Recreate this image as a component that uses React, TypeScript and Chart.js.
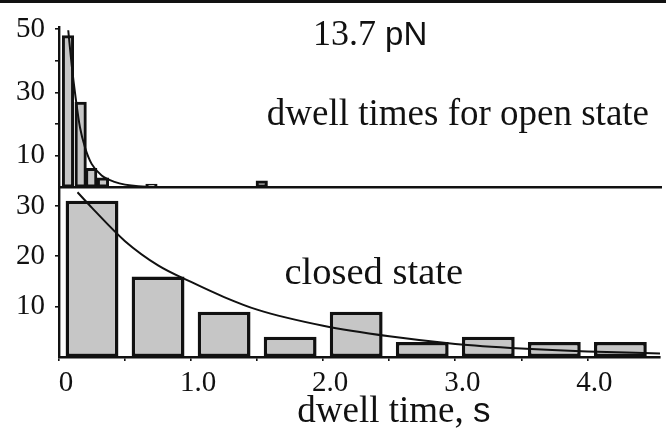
import React, { useEffect, useRef } from "react";
import { Chart, registerables } from "chart.js";

Chart.register(...registerables);

// ---- data ----
const openTimes = [0.068, 0.164, 0.244, 0.333, 0.7, 1.535];
const openCounts = [48, 27, 6, 3, 1, 2];
const closedTimes = [0.25, 0.75, 1.25, 1.75, 2.25, 2.75, 3.25, 3.75, 4.25];
const closedCounts = [31, 16, 9, 4, 9, 3, 4, 3, 3];
const openFitT = [0.07, 0.096, 0.126, 0.159, 0.197, 0.247, 0.323, 0.42, 0.6, 0.8, 1.0, 1.63];
const openFitY = [49.7, 38.7, 28.3, 18.9, 12.6, 7.4, 3.7, 1.7, 0.3, 0.05, 0, 0];
const closedFitT = [0.14, 0.25, 0.5, 0.75, 1.0, 1.25, 1.5, 2.0, 2.5, 3.0, 3.5, 4.0, 4.55];
const closedFitY = [32.7, 29.6, 23.0, 18.2, 14.9, 11.9, 9.4, 6.2, 4.1, 2.6, 1.7, 1.1, 0.7];
const xTickValues = [0, 0.5, 1, 1.5, 2, 2.5, 3, 3.5, 4];
const xTickLabels = ["0", "", "1.0", "", "2.0", "", "3.0", "", "4.0"];
const openYTickValues = [10, 20, 30, 40, 50];
const openYTickLabels = ["10", "", "30", "", "50"];
const closedYTickValues = [10, 20, 30];
const closedYTickLabels = ["10", "20", "30"];
const xRange = [0, 4.55];
const openYRange = [0, 50.6];
const closedYRange = [0, 33.7];
const panelTitle = ["13.7 ", "pN"];
const openLabel = "dwell times for open state";
const closedLabel = "closed state";
const xTitle = ["dwell time, ", "s"];

const SERIF = "'Liberation Serif', 'Times New Roman', serif";
const SANS = "'Liberation Sans', Arial, sans-serif";
const INK = "#111111";
const BAR_FILL = "#c6c6c6";

export default function App() {
  const ref = useRef<HTMLCanvasElement | null>(null);

  useEffect(() => {
    const canvas = ref.current;
    if (!canvas) return;

    const drawMixed = (
      ctx: CanvasRenderingContext2D,
      parts: { text: string; font: string }[],
      cx: number,
      baseline: number
    ) => {
      let total = 0;
      const widths = parts.map((p) => {
        ctx.font = p.font;
        const w = ctx.measureText(p.text).width;
        total += w;
        return w;
      });
      let x = cx - total / 2;
      ctx.textAlign = "left";
      ctx.textBaseline = "alphabetic";
      parts.forEach((p, i) => {
        ctx.font = p.font;
        ctx.fillText(p.text, x, baseline);
        x += widths[i];
      });
    };

    const decor = {
      id: "decor",
      afterDraw(chart: any) {
        const { ctx, chartArea, scales } = chart;
        const x = scales.x;
        const yTop = scales.yTop;
        const yBot = scales.yBot;
        ctx.save();
        ctx.fillStyle = INK;
        ctx.strokeStyle = INK;
        // frame line at the very top
        ctx.lineWidth = 3;
        ctx.beginPath();
        ctx.moveTo(0, 1.5);
        ctx.lineTo(chart.width, 1.5);
        ctx.stroke();
        // separator between panels (baseline of upper panel)
        ctx.lineWidth = 2.4;
        ctx.beginPath();
        ctx.moveTo(chartArea.left - 1, yBot.top);
        ctx.lineTo(chart.width - 4, yBot.top);
        ctx.stroke();

        // texts
        drawMixed(
          ctx,
          [
            { text: panelTitle[0], font: `36px ${SERIF}` },
            { text: panelTitle[1], font: `33px ${SANS}` },
          ],
          x.getPixelForValue(2.356),
          yTop.getPixelForValue(45.0)
        );
        drawMixed(
          ctx,
          [{ text: openLabel, font: `37px ${SERIF}` }],
          x.getPixelForValue(3.02),
          yTop.getPixelForValue(19.7)
        );
        drawMixed(
          ctx,
          [{ text: closedLabel, font: `38.5px ${SERIF}` }],
          x.getPixelForValue(2.383),
          yBot.getPixelForValue(14.5)
        );
        drawMixed(
          ctx,
          [
            { text: xTitle[0], font: `37px ${SERIF}` },
            { text: xTitle[1], font: `35px ${SANS}` },
          ],
          x.getPixelForValue(2.535),
          chartArea.bottom + 65
        );
        ctx.restore();
      },
    };

    const tickFont = { family: SERIF, size: 29 };
    const tickGrid = {
      drawOnChartArea: false,
      drawTicks: true,
      tickLength: 4,
      color: INK,
      lineWidth: 1.6,
      offset: false,
    };

    const chart = new Chart(canvas, {
      type: "bar",
      data: {
        datasets: [
          {
            type: "line",
            data: openFitT.map((t, i) => ({ x: t, y: openFitY[i] })),
            xAxisID: "x",
            yAxisID: "yTop",
            borderColor: INK,
            borderWidth: 2,
            pointRadius: 0,
            cubicInterpolationMode: "monotone",
            fill: false,
          } as any,
          {
            type: "line",
            data: closedFitT.map((t, i) => ({ x: t, y: closedFitY[i] })),
            xAxisID: "x",
            yAxisID: "yBot",
            borderColor: INK,
            borderWidth: 2,
            pointRadius: 0,
            cubicInterpolationMode: "monotone",
            fill: false,
          } as any,
          {
            type: "bar",
            data: openTimes.map((t, i) => ({ x: t, y: openCounts[i] })),
            xAxisID: "xTop",
            yAxisID: "yTop",
            backgroundColor: BAR_FILL,
            borderColor: INK,
            borderWidth: 3,
            borderSkipped: false,
            barThickness: 11.5,
            grouped: false,
          } as any,
          {
            type: "bar",
            data: closedTimes.map((t, i) => ({ x: t, y: closedCounts[i] })),
            xAxisID: "x",
            yAxisID: "yBot",
            backgroundColor: BAR_FILL,
            borderColor: INK,
            borderWidth: 3.5,
            borderSkipped: false,
            categoryPercentage: 1,
            barPercentage: 0.8,
            grouped: false,
          } as any,
        ],
      },
      options: {
        animation: false,
        responsive: false,
        devicePixelRatio: 1,
        layout: { padding: { top: 22, right: 6, left: 0, bottom: 0 } },
        plugins: {
          legend: { display: false },
          tooltip: { enabled: false },
          title: { display: false },
        },
        scales: {
          x: {
            type: "linear",
            position: "bottom",
            offset: false,
            min: xRange[0],
            max: xRange[1],
            afterBuildTicks: (s: any) => {
              s.ticks = xTickValues.map((v) => ({ value: v }));
            },
            afterFit: (s: any) => {
              s.height = 75;
            },
            ticks: {
              callback: (_v: any, i: number) => xTickLabels[i],
              font: tickFont,
              color: INK,
              padding: 5,
              labelOffset: 7,
              maxRotation: 0,
              autoSkip: false,
            },
            grid: tickGrid,
            border: { display: true, color: INK, width: 2.4 },
          },
          xTop: {
            type: "linear",
            display: false,
            offset: false,
            min: xRange[0],
            max: xRange[1],
          },
          yBot: {
            type: "linear",
            position: "left",
            stack: "panels",
            stackWeight: 172,
            min: closedYRange[0],
            max: closedYRange[1],
            afterBuildTicks: (s: any) => {
              s.ticks = closedYTickValues.map((v) => ({ value: v }));
            },
            afterFit: (s: any) => {
              s.width = 59;
            },
            ticks: {
              callback: (_v: any, i: number) => closedYTickLabels[i],
              font: tickFont,
              color: INK,
              padding: 10,
              autoSkip: false,
            },
            grid: tickGrid,
            border: { display: true, color: INK, width: 2.4 },
          },
          yTop: {
            type: "linear",
            position: "left",
            stack: "panels",
            stackWeight: 162,
            min: openYRange[0],
            max: openYRange[1],
            afterBuildTicks: (s: any) => {
              s.ticks = openYTickValues.map((v) => ({ value: v }));
            },
            afterFit: (s: any) => {
              s.width = 59;
            },
            ticks: {
              callback: (_v: any, i: number) => openYTickLabels[i],
              font: tickFont,
              color: INK,
              padding: 10,
              autoSkip: false,
            },
            grid: tickGrid,
            border: { display: true, color: INK, width: 2.4 },
          },
        },
      } as any,
      plugins: [decor],
    });

    return () => chart.destroy();
  }, []);

  return (
    <div
      style={{
        position: "absolute",
        left: 0,
        top: 0,
        width: 666,
        height: 432,
        background: "#ffffff",
      }}
    >
      <canvas ref={ref} width={666} height={432} style={{ width: 666, height: 432 }} />
    </div>
  );
}
